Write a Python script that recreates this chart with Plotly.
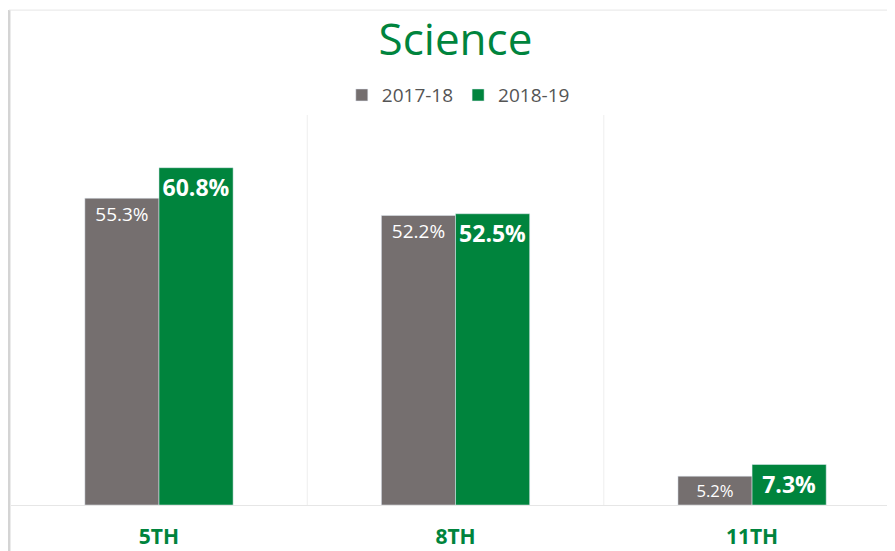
import plotly.graph_objects as go

categories = ["5TH", "8TH", "11TH"]
series_2017 = [55.3, 52.2, 5.2]
series_2018 = [60.8, 52.5, 7.3]
series_names = ["2017-18", "2018-19"]

GRAY = "#756f6f"
GREEN = "#00843d"

x = list(range(len(categories)))

fig = go.Figure()
fig.add_trace(go.Bar(
    x=x, y=series_2017, name=series_names[0], marker_color=GRAY,
    text=[f"{v:.1f}%" for v in series_2017], textposition="inside",
    insidetextanchor="end", textangle=0,
    textfont=dict(color="white", size=19, family="Open Sans"),
))
fig.add_trace(go.Bar(
    x=x, y=series_2018, name=series_names[1], marker_color=GREEN,
    text=[f"<b>{v:.1f}%</b>" for v in series_2018], textposition="inside",
    insidetextanchor="end", textangle=0,
    textfont=dict(color="white", size=23, family="Open Sans"),
))

shapes = []
for b in [0.5, 1.5]:
    shapes.append(dict(type="line", xref="x", yref="paper", x0=b, x1=b, y0=0, y1=1,
                       line=dict(color="#eeeeee", width=1), layer="below"))
# frame borders
shapes.append(dict(type="line", xref="paper", yref="paper", x0=-0.0023, x1=-0.0023,
                   y0=-0.2, y1=1.269, line=dict(color="#d4d4d4", width=3)))
shapes.append(dict(type="line", xref="paper", yref="paper", x0=-0.0023, x1=1.01,
                   y0=1.269, y1=1.269, line=dict(color="#e6e6e6", width=1)))

fig.update_layout(
    width=895, height=551,
    margin=dict(l=3, r=8, t=107, b=54),
    paper_bgcolor="white", plot_bgcolor="white",
    barmode="group", bargap=0.5, bargroupgap=0,
    title=dict(text="Science", x=0.5, xanchor="center", y=0.942, yanchor="middle",
               font=dict(family="Open Sans", size=44, color=GREEN)),
    legend=dict(orientation="h", x=0.506, xanchor="center", y=1.051, yanchor="middle",
                font=dict(family="Open Sans", size=19, color="#555555"),
                itemwidth=30, traceorder="normal"),
    xaxis=dict(tickmode="array", tickvals=x, ticktext=categories,
               range=[-0.499, 2.482], showgrid=False, showline=True,
               linecolor="#e6e6e6", linewidth=1, zeroline=False,
               tickfont=dict(family="Open Sans", size=21, color=GREEN, weight="bold"),
               ticklabelstandoff=13),
    yaxis=dict(range=[0, 70.3], visible=False),
    shapes=shapes,
    showlegend=True,
)

fig.write_html("out.html")
